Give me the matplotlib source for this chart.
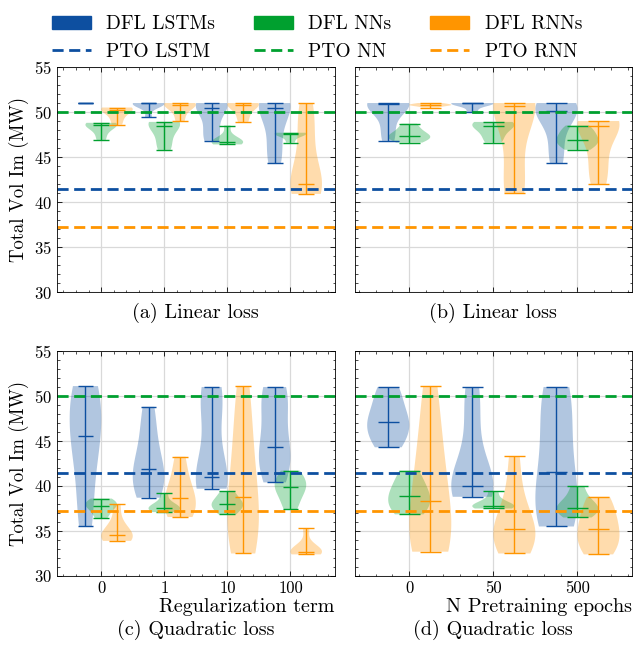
import numpy as np
import matplotlib
matplotlib.use("Agg")
import matplotlib.pyplot as plt
from matplotlib.patches import Patch
from matplotlib.lines import Line2D
from matplotlib.ticker import AutoMinorLocator, MultipleLocator

plt.rcParams['font.family'] = 'cmr10'
plt.rcParams['mathtext.fontset'] = 'cm'
plt.rcParams['axes.formatter.use_mathtext'] = True

# Data (each inner list = one violin)
reg_labels = ['0', '1', '10', '100']
pre_labels = ['0', '50', '500']

# (a) linear loss vs regularization term
lin_reg_lstm = [[51.0, 51.0, 51.01, 51.0],
                [49.4, 50.6, 50.9, 51.0, 51.0, 51.0],
                [46.8, 47.3, 48.5, 50.2, 50.8, 50.9, 51.0, 51.0],
                [44.3, 45.5, 47.5, 50.0, 51.0, 51.0, 51.0, 51.0]]
lin_reg_nn = [[46.9, 47.8, 48.5, 48.6, 48.7, 48.8],
              [45.8, 46.8, 48.2, 48.8, 48.9, 48.9],
              [46.4, 46.5, 46.6, 46.7, 46.8, 47.3, 48.5],
              [46.6, 47.2, 47.5, 47.6, 47.7, 47.7]]
lin_reg_rnn = [[48.6, 49.4, 50.2, 50.3, 50.4, 50.5],
               [49.0, 50.0, 50.7, 50.9, 51.0, 51.0],
               [48.9, 49.8, 50.7, 50.9, 51.0, 51.0],
               [40.9, 41.3, 41.8, 42.0, 42.0, 45.0, 47.5, 49.5, 51.0]]

# (b) linear loss vs pretraining epochs
lin_pre_lstm = [[46.8, 48.3, 50.4, 50.9, 51.0, 51.0, 51.0],
                [50.0, 50.6, 50.9, 51.0, 51.0, 51.0],
                [44.3, 46.0, 48.5, 50.1, 50.2, 50.6, 51.0, 51.0]]
lin_pre_nn = [[46.6, 47.0, 47.2, 47.3, 47.6, 48.1, 48.7],
              [46.6, 47.4, 48.2, 48.6, 48.8, 48.9],
              [45.8, 46.3, 46.8, 46.9, 47.5, 48.0, 48.5]]
lin_pre_rnn = [[50.5, 50.7, 50.75, 50.8, 50.9, 51.0],
               [41.0, 41.4, 45.0, 50.5, 50.8, 50.9, 51.0, 51.0],
               [42.0, 43.5, 45.5, 48.2, 48.8, 48.9, 49.0, 49.0]]

# (c) quadratic loss vs regularization term
quad_reg_lstm = [[35.5, 37.5, 41.0, 44.0, 45.5, 45.6, 48.0, 50.0, 51.0, 51.1],
                 [38.7, 39.5, 40.5, 41.5, 42.3, 44.0, 46.5, 48.8],
                 [39.7, 40.3, 40.8, 41.0, 41.0, 46.5, 49.5, 50.5, 51.0],
                 [40.4, 41.5, 43.0, 44.0, 44.3, 47.5, 49.5, 50.5, 51.0]]
quad_reg_nn = [[36.4, 37.0, 37.6, 37.8, 38.0, 38.3, 38.6],
               [37.1, 37.3, 37.5, 37.6, 37.7, 38.2, 39.2],
               [36.85, 37.3, 37.8, 38.0, 38.2, 38.8, 39.4],
               [37.4, 38.5, 39.5, 39.9, 40.3, 41.0, 41.7]]
quad_reg_rnn = [[33.9, 34.1, 34.3, 34.6, 34.8, 36.0, 38.0],
                [36.55, 37.0, 37.8, 38.7, 39.5, 41.0, 43.25],
                [32.5, 33.5, 35.0, 37.0, 38.8, 41.0, 44.0, 47.5, 51.1],
                [32.4, 32.5, 32.6, 32.7, 32.9, 33.5, 35.3]]

# (d) quadratic loss vs pretraining epochs
quad_pre_lstm = [[44.3, 45.0, 46.2, 47.0, 47.3, 48.5, 50.0, 51.0],
                 [38.8, 39.2, 39.6, 39.9, 40.0, 41.5, 45.0, 49.0, 51.0],
                 [35.5, 36.2, 37.5, 39.0, 41.5, 44.0, 47.5, 50.0, 51.0]]
quad_pre_nn = [[36.85, 37.5, 38.2, 38.9, 39.5, 40.5, 41.7],
               [37.5, 37.6, 37.7, 37.8, 38.0, 38.5, 39.4],
               [36.5, 37.0, 37.4, 37.6, 38.0, 38.8, 40.0]]
quad_pre_rnn = [[32.7, 33.2, 34.0, 35.5, 38.3, 40.5, 43.0, 46.5, 51.1],
                [32.5, 33.3, 34.2, 35.0, 35.5, 37.0, 39.5, 43.3],
                [32.4, 33.3, 34.2, 35.2, 36.2, 37.5, 38.8]]

# PTO baselines
pto_lstm = 41.45
pto_nn = 49.95
pto_rnn = 37.2

c_lstm = '#0D4FA0'
c_nn = '#00A02F'
c_rnn = '#FF9500'
dash = (4, 2)

panels = [
    (lin_reg_lstm, lin_reg_nn, lin_reg_rnn, reg_labels, '(a) Linear loss', None),
    (lin_pre_lstm, lin_pre_nn, lin_pre_rnn, pre_labels, '(b) Linear loss', None),
    (quad_reg_lstm, quad_reg_nn, quad_reg_rnn, reg_labels, '(c) Quadratic loss', 'Regularization term'),
    (quad_pre_lstm, quad_pre_nn, quad_pre_rnn, pre_labels, '(d) Quadratic loss', 'N Pretraining epochs'),
]

fig, axes = plt.subplots(2, 2, figsize=(6.34, 6.57), dpi=100, sharey=True, sharex='col')
fig.subplots_adjust(left=0.09, right=0.997, bottom=0.1233, top=0.898, wspace=0.072, hspace=0.262)

for ax, (d_lstm, d_nn, d_rnn, labels, caption, xlabel) in zip(axes.flat, panels):
    x = np.arange(len(labels))
    for data, off, col in [(d_lstm, -0.25, c_lstm), (d_nn, 0.0, c_nn), (d_rnn, 0.25, c_rnn)]:
        parts = ax.violinplot(data, positions=x + off, widths=0.5,
                              showextrema=True, showmedians=True)
        for b in parts['bodies']:
            b.set_facecolor(col)
            b.set_edgecolor('none')
            b.set_alpha(0.32)
        for key in ['cmaxes', 'cmins', 'cbars', 'cmedians']:
            parts[key].set_color(col)
            parts[key].set_linewidth(1.0)

    ax.axhline(pto_lstm, color=c_lstm, ls='--', lw=2, dashes=dash)
    ax.axhline(pto_nn, color=c_nn, ls='--', lw=2, dashes=dash)
    ax.axhline(pto_rnn, color=c_rnn, ls='--', lw=2, dashes=dash)

    ax.set_xticks(x)
    ax.set_xticklabels(labels)
    ax.set_ylim(30, 55)
    ax.yaxis.set_major_locator(MultipleLocator(5))
    ax.yaxis.set_minor_locator(AutoMinorLocator(5))
    ax.xaxis.set_minor_locator(AutoMinorLocator(5))
    ax.tick_params(which='both', direction='in', top=True, right=True, labelsize=12)
    ax.tick_params(which='major', length=3.5, width=0.6)
    ax.tick_params(which='minor', length=1.8, width=0.5)
    for s in ax.spines.values():
        s.set_linewidth(0.6)
    ax.grid(True, color='0.85', lw=0.9)
    ax.set_axisbelow(True)

    if xlabel:
        ax.set_xlabel(xlabel, loc='right', fontsize=14.5, labelpad=1)
        ax.text(0.5, -0.24, caption, transform=ax.transAxes, ha='center', va='center', fontsize=14.5)
    else:
        ax.text(0.5, -0.093, caption, transform=ax.transAxes, ha='center', va='center', fontsize=14.5)

for ax in axes[:, 0]:
    ax.set_ylabel('Total Vol Im (MW)', fontsize=13.5)

handles = [Patch(color=c_lstm), Line2D([], [], color=c_lstm, ls='--', lw=2, dashes=dash),
           Patch(color=c_nn), Line2D([], [], color=c_nn, ls='--', lw=2, dashes=dash),
           Patch(color=c_rnn), Line2D([], [], color=c_rnn, ls='--', lw=2, dashes=dash)]
labels = ['DFL LSTMs', 'PTO LSTM', 'DFL NNs', 'PTO NN', 'DFL RNNs', 'PTO RNN']
fig.legend(handles, labels, loc='upper center', bbox_to_anchor=(0.5, 1.0), ncol=3,
           frameon=False, fontsize=14, handlelength=2.0, handletextpad=0.8,
           columnspacing=2.0, labelspacing=0.5, borderpad=0.3)

fig.savefig('out.png', dpi=100)
